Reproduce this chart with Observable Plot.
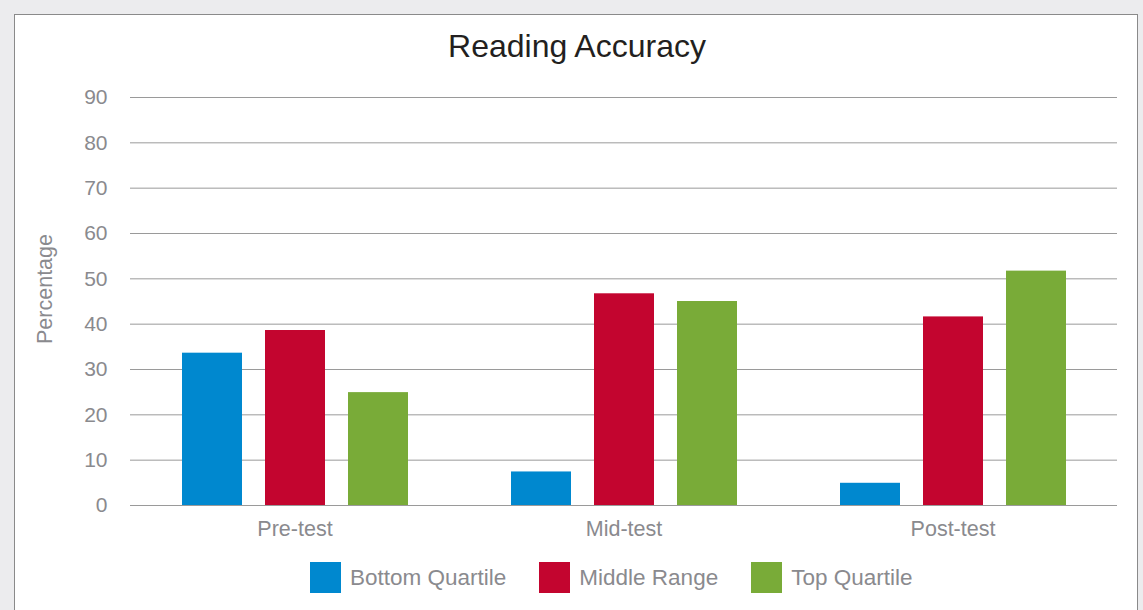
<!DOCTYPE html>
<html>
<head>
<meta charset="utf-8">
<script src="https://cdn.jsdelivr.net/npm/d3@7"></script>
<script src="https://cdn.jsdelivr.net/npm/@observablehq/plot@0.6"></script>
<style>
  html, body { margin: 0; padding: 0; }
  body { width: 1143px; height: 610px; background: #ececee; position: relative; overflow: hidden;
         font-family: "Liberation Sans", Arial, Helvetica, sans-serif; }
  #panel { position: absolute; left: 14px; top: 14px; width: 1124px; height: 620px;
           background: #fff; border: 1.5px solid #8a8a8a; box-sizing: border-box; }
  #title { position: absolute; left: 14px; width: 1126px; top: 28px; text-align: center;
           font-size: 32px; line-height: normal; color: #231f20; letter-spacing: 0px; }
  #chart { position: absolute; left: 0; top: 70px; }
  #ylabel { position: absolute; left: 45px; top: 289px; transform: translate(-50%, -50%) rotate(-90deg);
            font-size: 21.5px; color: #8a8a8e; white-space: nowrap; }
  #legend { position: absolute; left: 310px; top: 562px; display: flex; align-items: center; }
  .item { display: flex; align-items: center; margin-right: 33px; }
  .sw { width: 31px; height: 31px; margin-right: 9px; }
  .lab { font-size: 22.5px; color: #8a8a8e; }
</style>
</head>
<body>
<div id="panel"></div>
<div id="title">Reading Accuracy</div>
<div id="ylabel">Percentage</div>
<div id="chart"></div>
<div id="legend"></div>
<script>
const categories = ["Pre-test", "Mid-test", "Post-test"];
const series = ["Bottom Quartile", "Middle Range", "Top Quartile"];
const bottomQuartile = [33.6, 7.4, 4.9];
const middleRange = [38.6, 46.7, 41.6];
const topQuartile = [24.9, 45.0, 51.7];
const yTicks = [0, 10, 20, 30, 40, 50, 60, 70, 80, 90];
const colors = ["#0088cf", "#c3052f", "#79ab38"];

const seriesValues = [bottomQuartile, middleRange, topQuartile];
const rows = [];
categories.forEach((c, i) => {
  series.forEach((s, j) => rows.push({category: c, series: s, value: seriesValues[j][i]}));
});

const chart = Plot.plot({
  width: 1143,
  height: 475,
  marginLeft: 130,
  marginRight: 26,
  marginTop: 27,
  marginBottom: 40,
  fx: {domain: categories, padding: 0},
  x: {domain: series, paddingInner: 0.28, paddingOuter: 0.614, axis: null},
  y: {domain: [0, 90]},
  color: {domain: series, range: colors},
  style: {fontFamily: "'Liberation Sans', Arial, Helvetica, sans-serif", background: "transparent"},
  marks: [
    Plot.gridY(yTicks, {stroke: "#9a9a9a", strokeOpacity: 1, strokeWidth: 1}),
    Plot.axisY(yTicks, {tickSize: 0, tickPadding: 23, fontSize: 21, fill: "#8a8a8e", label: null}),
    Plot.axisFx({anchor: "bottom", tickSize: 0, tickPadding: 15, fontSize: 21.5, fill: "#8a8a8e", label: null}),
    Plot.barY(rows, {fx: "category", x: "series", y: "value", fill: "series"})
  ]
});
document.getElementById("chart").appendChild(chart);

const legend = document.getElementById("legend");
series.forEach((s, j) => {
  const item = document.createElement("div");
  item.className = "item";
  const sw = document.createElement("div");
  sw.className = "sw";
  sw.style.background = colors[j];
  const lab = document.createElement("div");
  lab.className = "lab";
  lab.textContent = s;
  item.appendChild(sw);
  item.appendChild(lab);
  legend.appendChild(item);
});
</script>
</body>
</html>
